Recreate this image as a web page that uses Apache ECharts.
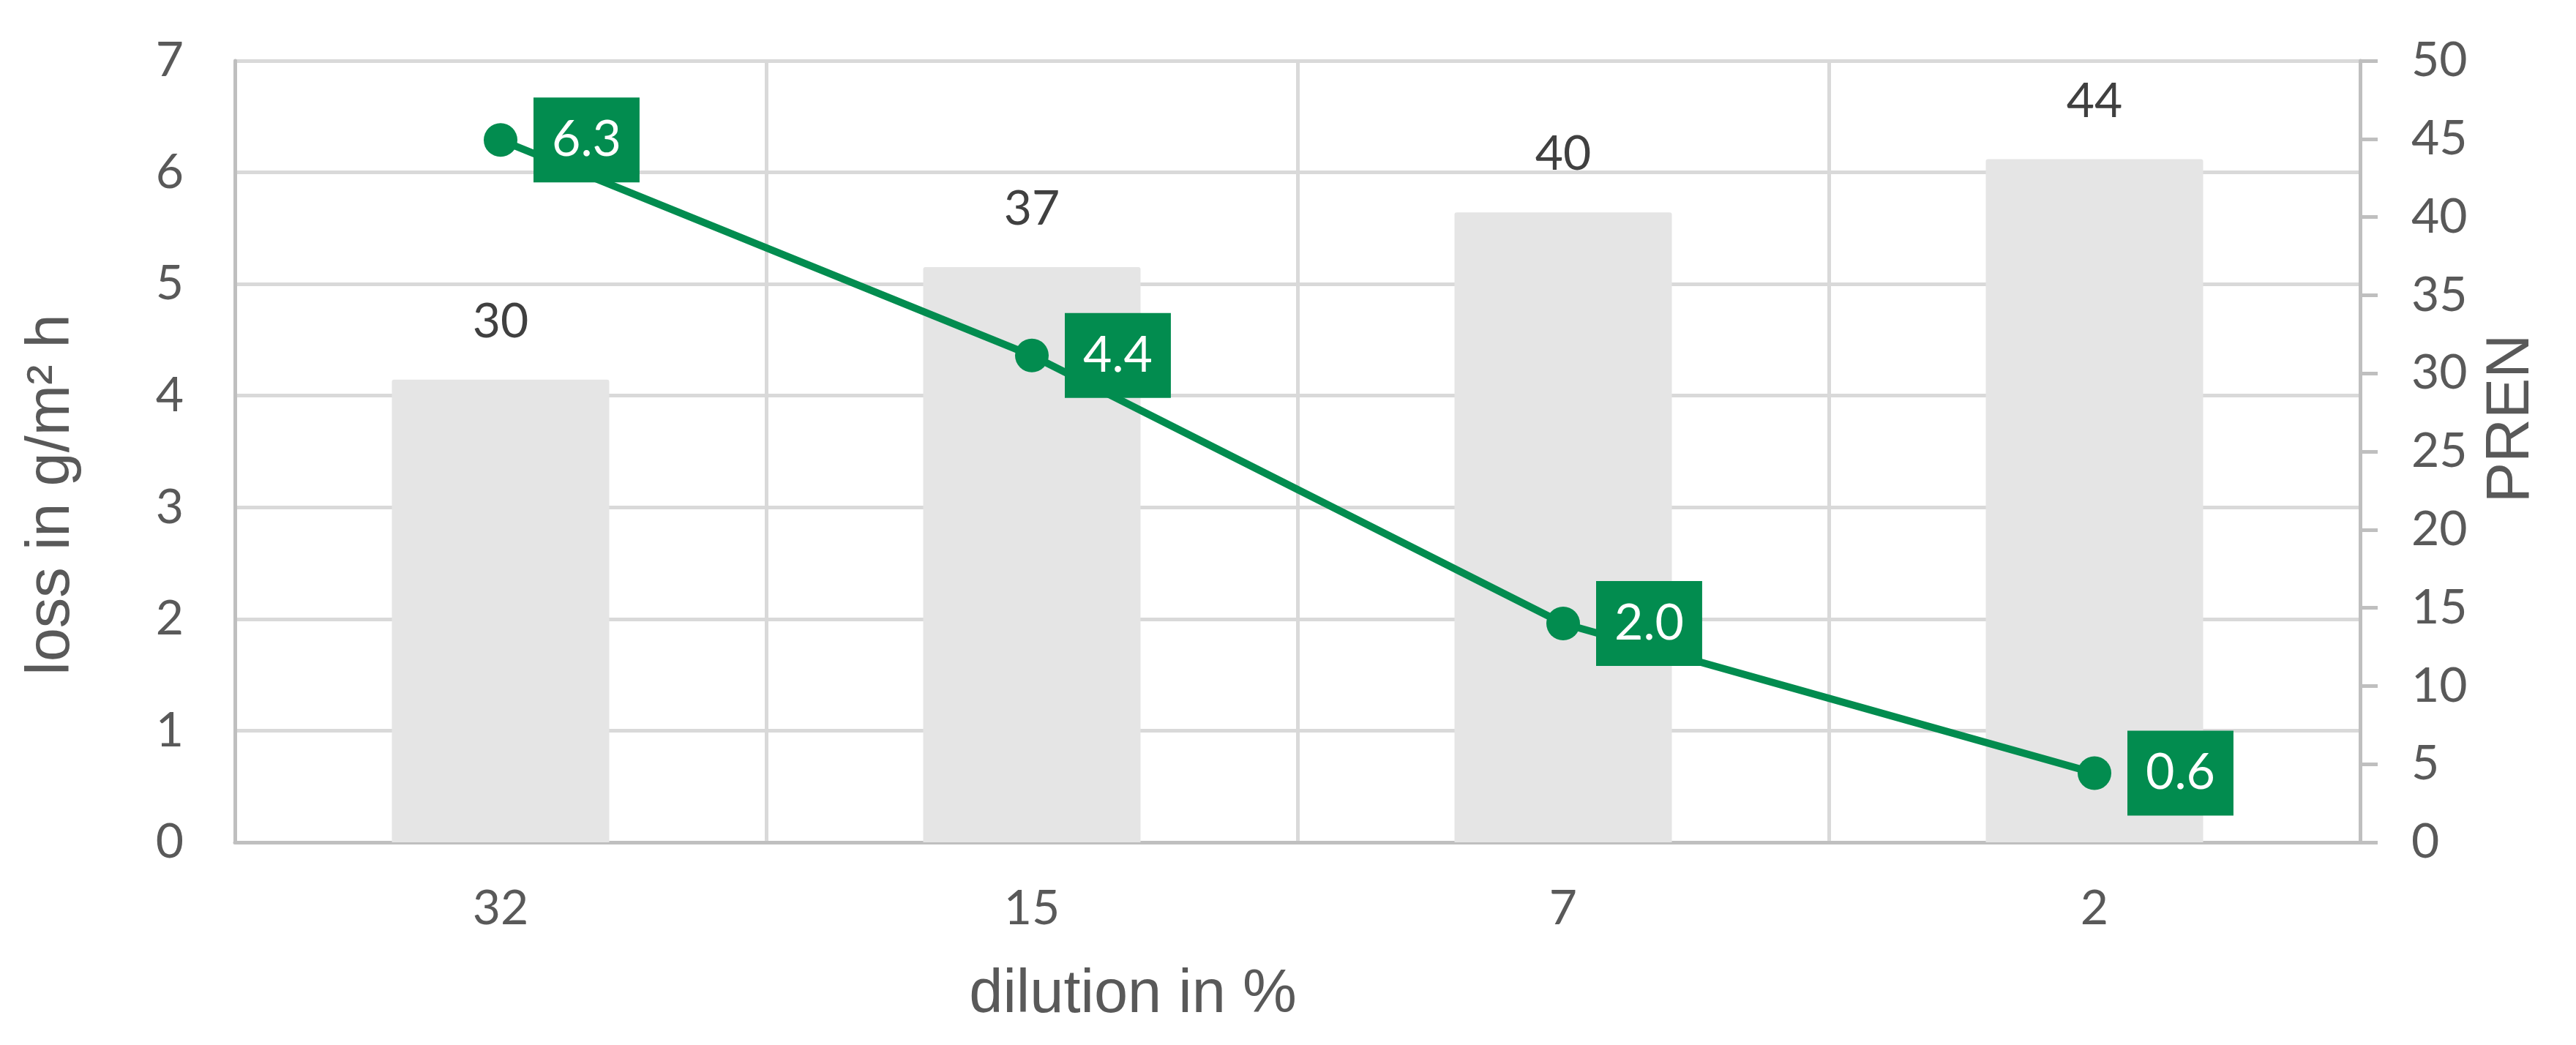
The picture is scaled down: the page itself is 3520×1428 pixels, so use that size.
<!DOCTYPE html>
<html>
<head>
<meta charset="utf-8">
<script src="https://cdn.jsdelivr.net/npm/echarts@6/dist/echarts.min.js"></script>
<style>
  html, body { margin: 0; padding: 0; background: #fff; }
  #chart { width: 3520px; height: 1428px; }
</style>
</head>
<body>
<div id="chart"></div>
<script>
// 数据
var dilution = ['32', '15', '7', '2'];
var pren = [29.6, 36.8, 40.3, 43.7];      // 柱 - 右轴
var loss = [6.29, 4.36, 1.96, 0.62];      // 线 - 左轴
var lossTicks = [0, 7, 1];
var prenTicks = [0, 50, 5];

var numFont = 'Lato';
var titleFont = 'Liberation Sans';
var grey = '#595959';

var Chart = echarts.init(document.getElementById('chart'));
var option = {
	backgroundColor: '#fff',
	animation: false,
	grid: { left: 321, right: 295, top: 83, bottom: 277 },
	xAxis: {
		type: 'category',
		data: dilution,
		name: 'dilution in %',
		nameLocation: 'middle',
		nameGap: 168,
		nameTextStyle: { fontFamily: titleFont, fontSize: 83, color: grey, padding: [0, 450, 0, 0] },
		axisLine: { lineStyle: { color: '#bfbfbf', width: 5 } },
		axisTick: { show: false },
		axisLabel: { margin: 58, fontFamily: numFont, fontSize: 66, color: grey },
		splitLine: { show: true, lineStyle: { color: '#d9d9d9', width: 5 } }
	},
	yAxis: [{
		type: 'value',
		min: lossTicks[0], max: lossTicks[1], interval: lossTicks[2],
		name: 'loss in g/m² h',
		nameLocation: 'middle',
		nameGap: 208,
		nameTextStyle: { fontFamily: titleFont, fontSize: 83, color: grey, padding: [0, 118, 0, 0] },
		axisLine: { show: true, lineStyle: { color: '#bfbfbf', width: 5 } },
		axisTick: { show: false },
		axisLabel: { margin: 70, fontFamily: numFont, fontSize: 66, color: grey },
		splitLine: { lineStyle: { color: '#d9d9d9', width: 5 } }
	}, {
		type: 'value',
		position: 'right',
		min: prenTicks[0], max: prenTicks[1], interval: prenTicks[2],
		name: 'PREN',
		nameLocation: 'middle',
		nameGap: 166,
		nameTextStyle: { fontFamily: titleFont, fontSize: 83, color: grey, padding: [0, 0, 0, 90] },
		axisLine: { show: true, lineStyle: { color: '#bfbfbf', width: 5 } },
		axisTick: { show: true, length: 24, lineStyle: { color: '#bfbfbf', width: 5 } },
		axisLabel: { margin: 70, fontFamily: numFont, fontSize: 66, color: grey },
		splitLine: { show: false }
	}],
	series: [{
		type: 'bar',
		yAxisIndex: 1,
		data: pren,
		barWidth: 297,
		itemStyle: { color: '#e5e5e5', borderRadius: [3, 3, 0, 0] },
		label: {
			show: true, position: 'top', distance: 46,
			fontFamily: numFont, fontSize: 66, color: '#404040',
			formatter: function (p) { return p.value.toFixed(0); }
		}
	}, {
		type: 'line',
		yAxisIndex: 0,
		data: loss,
		symbol: 'circle',
		symbolSize: 46,
		lineStyle: { color: '#028c4f', width: 10 },
		itemStyle: { color: '#028c4f' },
		label: {
			show: true, position: 'right', distance: 22,
			fontFamily: numFont, fontSize: 68, color: '#fff',
			backgroundColor: '#028c4f', padding: [24, 25, 24, 25], lineHeight: 68,
			formatter: function (p) { return p.value.toFixed(1); }
		}
	}]
};
Chart.setOption(option);
</script>
</body>
</html>
